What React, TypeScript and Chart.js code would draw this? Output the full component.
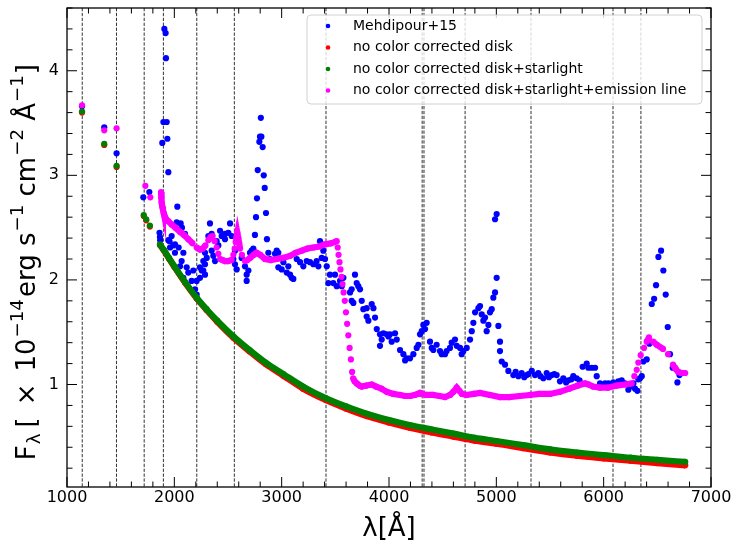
import React, { useEffect, useRef } from "react";
import { Chart, registerables } from "chart.js";

Chart.register(...registerables);

const FONT = "'DejaVu Sans', 'Liberation Sans', sans-serif";

// ---------- axis / tick values ----------
const xMin = 1000;
const xMax = 7000;
const yMin = 0.02;
const yMax = 4.6;
const xTicks = [1000, 2000, 3000, 4000, 5000, 6000, 7000];
const yTicks = [1, 2, 3, 4];
const xMinorStep = 200;
const yMinorStep = 0.2;

// vertical dashed reference wavelengths (Å)
const markerLines = [1142, 1461, 1719, 1898, 2209, 2559, 3413, 4309, 4326, 4709, 5323, 6087, 6347];

// ---------- legend ----------
const legendLabels = [
  "Mehdipour+15",
  "no color corrected disk",
  "no color corrected disk+starlight",
  "no color corrected disk+starlight+emission line",
];
const legendColors = ["#0000ff", "#ff0000", "#008000", "#ff00ff"];

// y-axis label pieces (text, relative size, baseline shift in em, gap before in px)
const yTitleParts: { text: string; scale: number; shift: number; gap: number }[] = [
  { text: "F", scale: 1, shift: 0, gap: 0 },
  { text: "λ", scale: 0.7, shift: 0.2, gap: 1 },
  { text: "[", scale: 1, shift: 0, gap: 6 },
  { text: "×", scale: 1, shift: 0, gap: 12 },
  { text: "10", scale: 1, shift: 0, gap: 12 },
  { text: "−14", scale: 0.7, shift: -0.45, gap: 1 },
  { text: "erg s", scale: 1, shift: 0, gap: 2 },
  { text: "−1", scale: 0.7, shift: -0.45, gap: 1 },
  { text: " cm", scale: 1, shift: 0, gap: 0 },
  { text: "−2", scale: 0.7, shift: -0.45, gap: 1 },
  { text: " Å", scale: 1, shift: 0, gap: 0 },
  { text: "−1", scale: 0.7, shift: -0.45, gap: 1 },
  { text: "]", scale: 1, shift: 0, gap: 1 },
];
const xTitle = "λ[Å]";

// ---------- data: Mehdipour+15 ----------
const mehdipourWave = [
  1140, 1347, 1462, 1711, 1767, 1862, 1866, 1868, 1888, 1898, 1907, 1919, 1922, 1929, 1935, 1944,
  1944, 1955, 1960, 1975, 1990, 2006, 2006, 2022, 2028, 2040, 2053, 2059, 2068, 2071, 2084, 2084,
  2099, 2115, 2130, 2161, 2177, 2193, 2208, 2208, 2239, 2239, 2255, 2270, 2270, 2286, 2286, 2286,
  2302, 2317, 2332, 2348, 2348, 2363, 2379, 2394, 2410, 2426, 2441, 2472, 2472, 2503, 2519, 2534,
  2550, 2565, 2565, 2581, 2627, 2658, 2674, 2674, 2690, 2705, 2720, 2736, 2751, 2761, 2770, 2777,
  2792, 2798, 2806, 2811, 2823, 2833, 2842, 2854, 2863, 2876, 2891, 2938, 2954, 2969, 2969, 3000,
  3016, 3047, 3062, 3078, 3093, 3109, 3140, 3171, 3202, 3233, 3264, 3295, 3326, 3342, 3357, 3373,
  3388, 3404, 3420, 3435, 3450, 3481, 3497, 3513, 3544, 3560, 3575, 3637, 3652, 3652, 3668, 3683,
  3699, 3714, 3730, 3746, 3761, 3792, 3792, 3808, 3839, 3855, 3870, 3886, 3916, 3916, 3932, 3948,
  3979, 3995, 4010, 4025, 4056, 4072, 4103, 4134, 4150, 4165, 4196, 4227, 4258, 4274, 4289, 4305,
  4320, 4336, 4351, 4382, 4398, 4413, 4444, 4475, 4491, 4522, 4537, 4568, 4584, 4615, 4631, 4662,
  4677, 4693, 4724, 4755, 4771, 4786, 4802, 4833, 4848, 4864, 4879, 4895, 4910, 4926, 4941, 4957,
  4972, 4988, 4988, 5003, 5003, 5019, 5034, 5034, 5050, 5081, 5112, 5158, 5180, 5205, 5236, 5260,
  5283, 5300, 5330, 5360, 5391, 5410, 5438, 5469, 5490, 5516, 5540, 5562, 5593, 5624, 5650, 5671,
  5700, 5717, 5748, 5775, 5804, 5842, 5857, 5889, 5920, 5935, 5966, 6013, 6044, 6090, 6137, 6168,
  6199, 6230, 6246, 6277, 6292, 6314, 6323, 6339, 6355, 6370, 6401, 6426, 6448, 6470, 6488, 6510,
  6535, 6556, 6578, 6597, 6618, 6643, 6665, 6687, 6706,
];
const mehdipourFlux = [
  3.66, 3.46, 3.21, 2.79, 2.84, 2.45, 2.41, 2.38, 3.31, 3.51, 4.40, 4.36, 4.12, 3.51, 3.35, 3.03,
  2.38, 2.37, 2.31, 2.42, 2.33, 2.26, 2.34, 2.55, 2.70, 2.31, 2.13, 2.54, 2.18, 2.50, 2.26, 2.02,
  2.44, 2.12, 2.07, 1.99, 2.09, 1.91, 1.86, 1.99, 2.12, 2.02, 2.09, 2.18, 2.09, 2.26, 2.15, 2.05,
  2.21, 2.42, 2.54, 2.44, 2.28, 2.23, 2.18, 2.37, 2.33, 2.47, 2.42, 2.44, 2.39, 2.45, 2.54, 2.42,
  2.20, 2.28, 2.15, 2.10, 2.21, 2.13, 2.05, 1.99, 2.09, 2.26, 2.28, 2.30, 2.43, 2.60, 2.78, 3.05,
  3.32, 3.37, 3.55, 3.37, 3.27, 3.00, 2.88, 2.64, 2.39, 2.26, 2.20, 2.25, 2.28, 2.26, 2.12, 2.10,
  2.17, 2.07, 2.13, 2.05, 2.02, 2.01, 2.20, 2.17, 2.13, 2.18, 2.17, 2.15, 2.18, 2.13, 2.37, 2.21,
  2.28, 2.20, 2.13, 1.97, 2.05, 1.97, 2.05, 1.94, 1.99, 1.94, 2.02, 1.88, 1.91, 1.80, 1.78, 2.05,
  1.97, 1.94, 1.91, 1.80, 1.72, 1.73, 1.65, 1.61, 1.77, 1.73, 1.64, 1.53, 1.48, 1.37, 1.43, 1.49,
  1.48, 1.46, 1.48, 1.41, 1.49, 1.43, 1.33, 1.29, 1.23, 1.25, 1.25, 1.29, 1.35, 1.38, 1.48, 1.51,
  1.57, 1.53, 1.59, 1.41, 1.35, 1.33, 1.38, 1.32, 1.29, 1.29, 1.32, 1.35, 1.40, 1.43, 1.37, 1.35,
  1.29, 1.32, 1.35, 1.43, 1.51, 1.59, 1.69, 1.73, 1.75, 1.67, 1.61, 1.64, 1.51, 1.57, 1.69, 1.72,
  1.83, 1.88, 2.58, 2.63, 2.02, 1.56, 1.41, 1.32, 1.22, 1.19, 1.13, 1.09, 1.12, 1.08, 1.11, 1.07,
  1.09, 1.10, 1.13, 1.09, 1.11, 1.08, 1.06, 1.11, 1.07, 1.09, 1.10, 1.09, 1.03, 1.06, 1.02, 1.04,
  1.05, 1.08, 1.06, 1.04, 1.17, 1.20, 1.16, 1.16, 1.16, 1.08, 1.01, 1.01, 1.01, 1.02, 1.03, 1.04,
  1.01, 0.95, 0.98, 1.01, 0.96, 0.94, 1.05, 1.06, 1.08, 1.22, 1.24, 1.39, 1.77, 1.82, 1.95, 2.22,
  2.28, 2.09, 1.86, 1.55, 1.29, 1.16, 1.16, 1.02, 1.09,
];

// ---------- data: no color corrected disk (red) ----------
const diskWave = [
  1140, 1347, 1462, 1715, 1738, 1772, 1866, 1900, 1950, 2000, 2100, 2208, 2300, 2400, 2550, 2700,
  2850, 3016, 3200, 3410, 3600, 3792, 4000, 4200, 4400, 4600, 4800, 5000, 5250, 5500, 5750, 6000,
  6250, 6500, 6760,
];
const diskFlux = [
  3.60, 3.29, 3.08, 2.61, 2.57, 2.51, 2.335, 2.285, 2.205, 2.125, 1.973, 1.823, 1.712, 1.6, 1.448,
  1.317, 1.195, 1.083, 0.96, 0.852, 0.77, 0.698, 0.636, 0.584, 0.541, 0.502, 0.463, 0.434, 0.392,
  0.351, 0.319, 0.294, 0.271, 0.249, 0.227,
];

// ---------- data: disk + starlight (green) ----------
const starWave = [
  1140, 1347, 1462, 1715, 1738, 1772, 1866, 1900, 1950, 2000, 2100, 2208, 2300, 2400, 2550, 2700,
  2850, 3016, 3200, 3410, 3600, 3792, 4000, 4200, 4400, 4600, 4800, 5000, 5250, 5500, 5750, 6000,
  6250, 6500, 6760,
];
const starFlux = [
  3.61, 3.30, 3.09, 2.62, 2.58, 2.52, 2.34, 2.29, 2.21, 2.13, 1.98, 1.83, 1.72, 1.61, 1.46, 1.33,
  1.21, 1.10, 0.98, 0.87, 0.79, 0.72, 0.66, 0.61, 0.57, 0.53, 0.49, 0.46, 0.42, 0.38, 0.35, 0.325,
  0.30, 0.28, 0.26,
];

// ---------- data: disk + starlight + emission line (magenta) ----------
const emisWave = [
  1140, 1347, 1462, 1730, 1776, 1876, 1879, 1883, 1888, 1894, 1901, 1910, 1925, 1945, 1975, 2010,
  2053, 2090, 2130, 2170, 2208, 2240, 2265, 2290, 2317, 2340, 2357, 2375, 2394, 2410, 2426, 2450,
  2472, 2500, 2534, 2550, 2562, 2572, 2580, 2587, 2596, 2604, 2612, 2630, 2658, 2680, 2705, 2740,
  2767, 2800, 2845, 2900, 2954, 3010, 3078, 3130, 3187, 3240, 3295, 3350, 3404, 3460, 3513, 3522,
  3530, 3539, 3548, 3558, 3567, 3577, 3588, 3599, 3610, 3621, 3633, 3645, 3656, 3666, 3680, 3700,
  3725, 3746, 3790, 3839, 3880, 3930, 3979, 4040, 4103, 4150, 4196, 4240, 4270, 4289, 4310, 4350,
  4410, 4470, 4522, 4570, 4600, 4631, 4655, 4680, 4724, 4790, 4848, 4940, 5034, 5120, 5220, 5314,
  5400, 5500, 5593, 5680, 5760, 5826, 5860, 5900, 5966, 6040, 6121, 6200, 6261, 6286, 6308, 6323,
  6345, 6376, 6401, 6422, 6460, 6495, 6553, 6600, 6646, 6670, 6695, 6720, 6740, 6760,
];
const emisFlux = [
  3.67, 3.43, 3.45, 2.90, 2.79, 2.84, 2.79, 2.74, 2.70, 2.67, 2.64, 2.61, 2.58, 2.56, 2.53, 2.50,
  2.46, 2.43, 2.39, 2.35, 2.31, 2.29, 2.30, 2.33, 2.38, 2.41, 2.42, 2.37, 2.31, 2.25, 2.20, 2.19,
  2.18, 2.18, 2.19, 2.24, 2.30, 2.36, 2.41, 2.45, 2.40, 2.35, 2.30, 2.24, 2.18, 2.19, 2.21, 2.24,
  2.26, 2.24, 2.20, 2.19, 2.20, 2.21, 2.23, 2.26, 2.28, 2.30, 2.31, 2.32, 2.34, 2.35, 2.37, 2.31,
  2.24, 2.17, 2.10, 2.03, 1.96, 1.88, 1.80, 1.69, 1.58, 1.47, 1.35, 1.24, 1.12, 1.06, 1.03, 1.01,
  0.99, 0.98, 0.99, 1.00, 0.98, 0.96, 0.93, 0.91, 0.90, 0.89, 0.89, 0.90, 0.91, 0.92, 0.91, 0.90,
  0.90, 0.89, 0.88, 0.90, 0.93, 0.97, 0.94, 0.91, 0.90, 0.91, 0.92, 0.90, 0.88, 0.88, 0.89, 0.90,
  0.91, 0.91, 0.93, 0.96, 0.99, 1.01, 1.00, 0.98, 0.97, 0.97, 0.99, 1.00, 1.01, 1.08, 1.14, 1.21,
  1.28, 1.35, 1.41, 1.45, 1.41, 1.38, 1.34, 1.29, 1.19, 1.15, 1.12, 1.11, 1.11, 1.11,
];

// sparse photometric points lie blueward of this wavelength (not joined)
const curveStart = 1850;
const HIDDEN = "rgba(0,0,0,0)";

function toPoints(w: number[], f: number[]) {
  return w.map((x, i) => ({ x, y: f[i] }));
}

// model curves: isolated points blueward of curveStart are not joined
function segmentSparse(ctx: any) {
  if (ctx.p0.parsed.x < curveStart) return HIDDEN;
  return undefined;
}

// emission model: also leave widely spaced steep steps as separate dots
function segmentSteep(ctx: any) {
  const p0 = ctx.p0;
  const p1 = ctx.p1;
  if (p0.parsed.x < curveStart) return HIDDEN;
  const dx = p1.x - p0.x;
  const dy = p1.y - p0.y;
  if (Math.hypot(dx, dy) > 5.5 && Math.abs(dy) > Math.abs(dx)) return HIDDEN;
  return undefined;
}

const MARK_R = 3.1;
const LINE_W = 6.2;

const decorPlugin = {
  id: "decor",
  beforeDatasetsDraw(chart: any) {
    const { ctx, chartArea: a, scales } = chart;
    const xs = scales.x;
    ctx.save();
    ctx.beginPath();
    ctx.rect(a.left, a.top, a.right - a.left, a.bottom - a.top);
    ctx.clip();
    ctx.strokeStyle = "rgba(0,0,0,0.9)";
    ctx.lineWidth = 0.9;
    ctx.setLineDash([3.3, 1.6]);
    for (const w of markerLines) {
      const px = xs.getPixelForValue(w);
      ctx.beginPath();
      ctx.moveTo(px, a.top);
      ctx.lineTo(px, a.bottom);
      ctx.stroke();
    }
    ctx.restore();
  },
  afterDatasetsDraw(chart: any) {
    const { ctx, chartArea: a, scales } = chart;
    const xs = scales.x;
    const ys = scales.y;
    ctx.save();
    ctx.setLineDash([]);
    ctx.strokeStyle = "#000";
    ctx.lineWidth = 1;
    const drawX = (v: number, len: number) => {
      const px = xs.getPixelForValue(v);
      ctx.beginPath();
      ctx.moveTo(px, a.bottom);
      ctx.lineTo(px, a.bottom - len);
      ctx.moveTo(px, a.top);
      ctx.lineTo(px, a.top + len);
      ctx.stroke();
    };
    const drawY = (v: number, len: number) => {
      const py = ys.getPixelForValue(v);
      ctx.beginPath();
      ctx.moveTo(a.left, py);
      ctx.lineTo(a.left + len, py);
      ctx.moveTo(a.right, py);
      ctx.lineTo(a.right - len, py);
      ctx.stroke();
    };
    for (let v = xMin; v <= xMax + 1e-6; v += xMinorStep) {
      if (xTicks.some((t) => Math.abs(t - v) < 1e-6)) drawX(v, 10);
      else drawX(v, 5.5);
    }
    for (let k = 1; k * yMinorStep <= yMax + 1e-6; k++) {
      const v = k * yMinorStep;
      if (yTicks.some((t) => Math.abs(t - v) < 1e-6)) drawY(v, 10);
      else drawY(v, 5.5);
    }
    ctx.lineWidth = 1.3;
    ctx.strokeRect(a.left, a.top, a.right - a.left, a.bottom - a.top);

    // legend
    const lx = 307, ly = 15, lw = 395, lh = 89;
    ctx.beginPath();
    if ((ctx as any).roundRect) (ctx as any).roundRect(lx, ly, lw, lh, 4);
    else ctx.rect(lx, ly, lw, lh);
    ctx.fillStyle = "rgba(255,255,255,0.8)";
    ctx.fill();
    ctx.strokeStyle = "rgba(204,204,204,0.9)";
    ctx.lineWidth = 1;
    ctx.stroke();
    ctx.font = `14px ${FONT}`;
    ctx.textBaseline = "middle";
    ctx.textAlign = "left";
    legendLabels.forEach((label, i) => {
      const cy = 26 + i * 21.5;
      ctx.beginPath();
      ctx.arc(328, cy, 2.3, 0, Math.PI * 2);
      ctx.fillStyle = legendColors[i];
      ctx.fill();
      ctx.fillStyle = "#000";
      ctx.fillText(label, 353, cy);
    });
    ctx.restore();
  },
  afterDraw(chart: any) {
    const { ctx } = chart;
    const B = 26;
    ctx.save();
    // rotated frame: +x runs up the screen; title ends at screen y = 64
    ctx.translate(35, 0);
    ctx.rotate(-Math.PI / 2);
    ctx.fillStyle = "#000";
    ctx.textBaseline = "alphabetic";
    ctx.textAlign = "left";
    let total = 0;
    const widths = yTitleParts.map((p) => {
      ctx.font = `${B * p.scale}px ${FONT}`;
      const w = ctx.measureText(p.text).width;
      total += w + p.gap;
      return w;
    });
    let x = -64 - total;
    yTitleParts.forEach((p, i) => {
      x += p.gap;
      ctx.font = `${B * p.scale}px ${FONT}`;
      ctx.fillText(p.text, x, p.shift * B);
      x += widths[i];
    });
    ctx.restore();
  },
};

export default function App() {
  const ref = useRef<HTMLCanvasElement | null>(null);

  useEffect(() => {
    if (!ref.current) return;
    const mk = (label: string, w: number[], f: number[], color: string, order: number, seg: any, cubic: boolean) => ({
      label,
      data: toPoints(w, f),
      showLine: !!seg,
      borderColor: color,
      backgroundColor: color,
      pointBackgroundColor: color,
      pointBorderWidth: 0,
      pointRadius: MARK_R,
      pointHoverRadius: MARK_R,
      borderWidth: seg ? LINE_W : 0,
      cubicInterpolationMode: cubic ? "monotone" : "default",
      tension: 0,
      order,
      segment: seg ? { borderColor: seg } : undefined,
    });

    const chart = new Chart(ref.current, {
      type: "scatter",
      data: {
        datasets: [
          mk(legendLabels[0], mehdipourWave, mehdipourFlux, legendColors[0], 4, null, false),
          mk(legendLabels[1], diskWave, diskFlux, legendColors[1], 3, segmentSparse, true),
          mk(legendLabels[2], starWave, starFlux, legendColors[2], 2, segmentSparse, true),
          mk(legendLabels[3], emisWave, emisFlux, legendColors[3], 1, segmentSteep, false),
        ] as any,
      },
      options: {
        animation: false,
        responsive: false,
        devicePixelRatio: 1,
        layout: { padding: { left: 0, right: 23, top: 8, bottom: 0 } },
        plugins: { legend: { display: false }, tooltip: { enabled: false } },
        events: [],
        scales: {
          x: {
            type: "linear",
            min: xMin,
            max: xMax,
            afterBuildTicks: (s: any) => {
              s.ticks = xTicks.map((v) => ({ value: v }));
            },
            afterFit: (s: any) => {
              s.height = 59;
              s.paddingLeft = 0;
              s.paddingRight = 0;
            },
            grid: { display: false, drawTicks: false },
            border: { display: false },
            ticks: {
              color: "#000",
              font: { family: FONT, size: 16 },
              padding: 1,
              maxRotation: 0,
              autoSkip: false,
              callback: (v: any) => String(v),
            },
            title: {
              display: true,
              text: xTitle,
              color: "#000",
              font: { family: FONT, size: 26 },
              padding: { top: 0, bottom: 1 },
            },
          },
          y: {
            type: "linear",
            min: yMin,
            max: yMax,
            afterBuildTicks: (s: any) => {
              s.ticks = yTicks.map((v) => ({ value: v }));
            },
            afterFit: (s: any) => {
              s.width = 67;
              s.paddingTop = 0;
              s.paddingBottom = 0;
            },
            grid: { display: false, drawTicks: false },
            border: { display: false },
            ticks: {
              color: "#000",
              font: { family: FONT, size: 16 },
              padding: 8,
              autoSkip: false,
              callback: (v: any) => String(v),
            },
          },
        },
      } as any,
      plugins: [decorPlugin],
    });
    return () => chart.destroy();
  }, []);

  return (
    <div style={{ position: "absolute", left: 0, top: 0, width: 734, height: 546, background: "#fff" }}>
      <canvas ref={ref} width={734} height={546} style={{ display: "block" }} />
    </div>
  );
}
